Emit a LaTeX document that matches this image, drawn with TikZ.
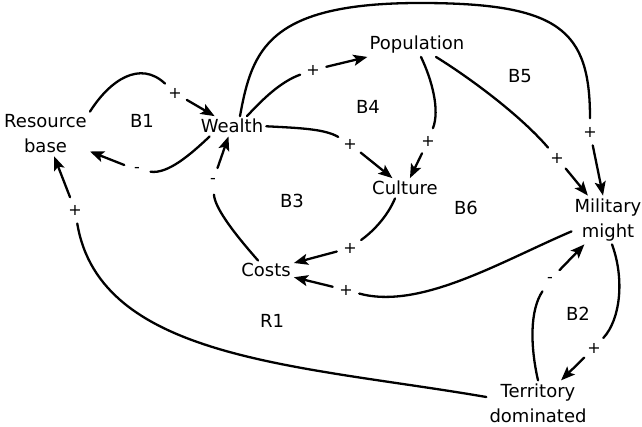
\documentclass[tikz,border=0pt]{standalone}
\usepackage{fontspec}
\setmainfont{DejaVu Sans}
\usetikzlibrary{arrows.meta}
\begin{document}
\begin{tikzpicture}[x=1pt,y=-1pt,
  lbl/.style={font=\fontsize{18}{25}\selectfont, align=center, inner sep=3pt},
  loopname/.style={font=\fontsize{18}{25}\selectfont, inner sep=0pt, anchor=base},
  sgn/.style={circle, inner sep=0pt, minimum size=27pt, font=\fontsize{16}{16}\selectfont},
  link/.style={line width=2.3pt, line cap=round},
  arr/.style={line width=2.3pt, line cap=round, -{Stealth[length=14pt,width=11pt,inset=3pt]}}]
\useasboundingbox (0,0) rectangle (642,427);

% variables
\node[lbl] (res) at (45.5,134) {Resource\\base};
\node[lbl, anchor=base] (wealth) at (232,133) {Wealth};
\node[lbl, anchor=base] (pop) at (417,50) {Population};
\node[lbl, anchor=base] (culture) at (405,195) {Culture};
\node[lbl, anchor=base] (costs) at (266,277) {Costs};
\node[lbl] (mil) at (608,220) {Military\\might};
\node[lbl] (terr) at (538,403) {Territory\\dominated};

% loop names
\node[loopname] (b1) at (142,128) {B1};
\node[loopname] (b4) at (368,114) {B4};
\node[loopname] (b5) at (520,83) {B5};
\node[loopname] (b3) at (292,208) {B3};
\node[loopname] (b6) at (466,215) {B6};
\node[loopname] (r1) at (272,327) {R1};
\node[loopname] (b2) at (578,320) {B2};

% link polarities
\node[sgn] (s1) at (175,93) {+};
\node[sgn] (s2) at (137,170) {-};
\node[sgn] (s3) at (213,181) {-};
\node[sgn] (s4) at (75,210) {+};
\node[sgn] (s5) at (313,70) {+};
\node[sgn] (s6) at (590,132) {+};
\node[sgn] (s7) at (350,144) {+};
\node[sgn] (s8) at (428,141) {+};
\node[sgn] (s9) at (557,158) {+};
\node[sgn] (s10) at (350,248) {+};
\node[sgn] (s11) at (346,290) {+};
\node[sgn] (s12) at (550,280) {-};
\node[sgn] (s13) at (594,348) {+};

% resource base -> wealth
\draw[link] (res.north east) .. controls (110,80) and (140,60) .. (s1);
\draw[arr] (s1) -- (wealth);
% wealth -> resource base
\draw[link] ([xshift=12pt]wealth.south west) .. controls (190,155) and (168,174) .. (s2);
\draw[arr] (s2) -- (res);
% costs -> wealth
\draw[link] ([xshift=-8pt]costs.north) .. controls (240,240) and (215,210) .. (s3);
\draw[arr] (s3) -- (wealth);
% territory -> resource base
\draw[link] ([yshift=6pt]terr.west) .. controls (300,365) and (100,360) .. (s4);
\draw[arr] (s4) -- (res);
% wealth -> population
\draw[link] ([xshift=15pt]wealth.north) .. controls (262,100) and (280,82) .. (s5);
\draw[arr] (s5) -- (pop);
% wealth -> military might
\draw[link] ([xshift=8pt]wealth.north) .. controls (252,50) and (268,3) .. (420,3)
  .. controls (560,3) and (590,30) .. (s6);
\draw[arr] (s6) -- (mil);
% wealth -> culture
\draw[link] (wealth.east) .. controls (300,128) and (325,129) .. (s7);
\draw[arr] (s7) -- (culture);
% population -> culture
\draw[link] ([xshift=4pt]pop.south) .. controls (432,80) and (440,110) .. (s8);
\draw[arr] (s8) -- (culture);
% population -> military might
\draw[link] ([xshift=19pt]pop.south) .. controls (470,78) and (520,115) .. (s9);
\draw[arr] (s9) -- (mil);
% culture -> costs
\draw[link] ([xshift=-10pt]culture.south) .. controls (388,215) and (375,230) .. (s10);
\draw[arr] (s10) -- (costs);
% military might -> costs
\draw[link] ([yshift=13pt]mil.south west) .. controls (500,262) and (420,310) .. (s11);
\draw[arr] (s11) -- (costs);
% territory -> military might
\draw[link] (terr.north) .. controls (530,345) and (530,310) .. (s12);
\draw[arr] (s12) -- (mil);
% military might -> territory
\draw[link] ([xshift=4pt]mil.south) .. controls (625,280) and (620,320) .. (s13);
\draw[arr] (s13) -- (terr);
\end{tikzpicture}
\end{document}
